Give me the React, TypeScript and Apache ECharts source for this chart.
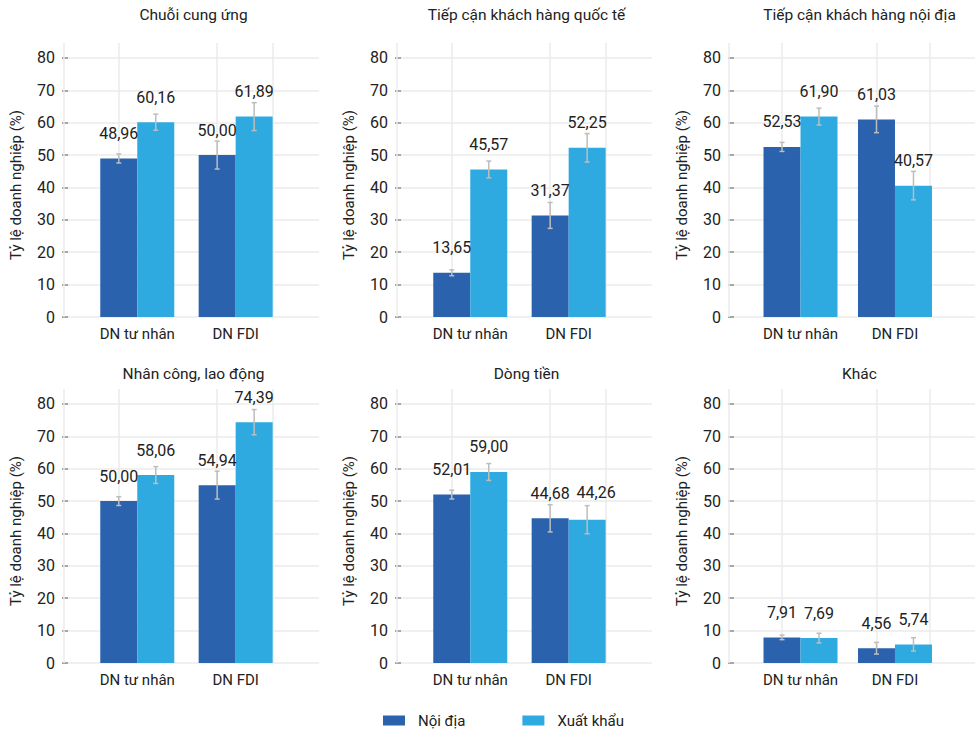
import React, { useEffect, useRef } from "react";
import * as echarts from "echarts";

const CATEGORIES = ["DN tư nhân", "DN FDI"];
const SERIES_NAMES = ["Nội địa", "Xuất khẩu"];
const TITLES = [
  "Chuỗi cung ứng",
  "Tiếp cận khách hàng quốc tế",
  "Tiếp cận khách hàng nội địa",
  "Nhân công, lao động",
  "Dòng tiền",
  "Khác",
];
const NOI_DIA = [
  [48.96, 50.0],
  [13.65, 31.37],
  [52.53, 61.03],
  [50.0, 54.94],
  [52.01, 44.68],
  [7.91, 4.56],
];
const XUAT_KHAU = [
  [60.16, 61.89],
  [45.57, 52.25],
  [61.9, 40.57],
  [58.06, 74.39],
  [59.0, 44.26],
  [7.69, 5.74],
];
// half-width of the error bars
const ERR_NOI_DIA = [
  [1.4, 4.3],
  [0.9, 4.0],
  [1.4, 4.1],
  [1.35, 4.3],
  [1.35, 4.2],
  [0.7, 1.8],
];
const ERR_XUAT_KHAU = [
  [2.5, 4.3],
  [2.6, 4.4],
  [2.6, 4.4],
  [2.6, 3.9],
  [2.6, 4.35],
  [1.5, 2.05],
];
const Y_TICKS = [0, 10, 20, 30, 40, 50, 60, 70, 80];
const Y_NAME = "Tỷ lệ doanh nghiệp (%)";

// layout / style
const COLORS = ["#2a62ad", "#2eaae1"];
const GRID_COLOR = "#ebebeb";
const ERR_COLOR = "#bdbdbd";
const TEXT_COLOR = "#222";
const FONT = "Roboto, sans-serif";
const PANEL_LEFT = [68, 401, 734];
const PANEL_TOP = [43, 389];
const TITLE_TOP = [7, 366];
const PANEL_W = 251;
const PANEL_H = 274;
const X_MIN = 0.296;
const X_MAX = 2.847;
const Y_MAX = 84.63;
const X_GRID = [0.44, 1, 2, 2.56];
const BAR_W = 37;
const CAP = 2.5;
// label nudge (px) to avoid overlapping labels: [panel, series, category, dx, dy]
const LABEL_NUDGE = [[4, 1, 1, 9, -2]];

export default function App() {
  const ref = useRef<HTMLDivElement>(null);

  useEffect(() => {
    if (!ref.current) return;
    const chart = echarts.init(ref.current, undefined, { renderer: "svg" });

    const grids: any[] = [];
    const xAxes: any[] = [];
    const yAxes: any[] = [];
    const titles: any[] = [];
    const series: any[] = [];

    const fmt = (v: number) => v.toFixed(2).replace(".", ",");

    TITLES.forEach((t, i) => {
      const col = i % 3;
      const row = Math.floor(i / 3);
      const left = PANEL_LEFT[col];
      const top = PANEL_TOP[row];
      grids.push({ left, top, width: PANEL_W, height: PANEL_H, containLabel: false });
      titles.push({
        text: t,
        left: left + PANEL_W / 2,
        top: TITLE_TOP[row],
        textAlign: "center",
        padding: 0,
        textStyle: { fontFamily: FONT, fontSize: 15.5, fontWeight: "normal", color: TEXT_COLOR },
      });
      xAxes.push({
        type: "value",
        gridIndex: i,
        min: X_MIN,
        max: X_MAX,
        axisLine: { show: false },
        axisTick: { show: false },
        splitLine: { show: false },
        axisLabel: {
          customValues: [1, 2],
          formatter: (v: number) => CATEGORIES[Math.round(v) - 1] ?? "",
          fontFamily: FONT,
          fontSize: 15,
          color: TEXT_COLOR,
          margin: 9,
        },
      });
      yAxes.push({
        type: "value",
        gridIndex: i,
        min: 0,
        max: Y_MAX,
        name: Y_NAME,
        nameLocation: "middle",
        nameGap: 45,
        nameTextStyle: { fontFamily: FONT, fontSize: 15, color: TEXT_COLOR, padding: [0, 10, 0, 0] },
        axisLine: { show: false },
        axisTick: {
          show: true,
          customValues: Y_TICKS,
          length: 6,
          lineStyle: { color: "#8a8a8a", width: 1.5 },
        },
        splitLine: { show: false },
        axisLabel: {
          customValues: Y_TICKS,
          fontFamily: FONT,
          fontSize: 16,
          color: TEXT_COLOR,
          margin: 13,
        },
      });

      const gridLines = [
        ...Y_TICKS.map((v) => ({ yAxis: v })),
        ...X_GRID.map((v) => ({ xAxis: v })),
      ];

      [NOI_DIA, XUAT_KHAU].forEach((vals, s) => {
        series.push({
          type: "bar",
          name: SERIES_NAMES[s],
          xAxisIndex: i,
          yAxisIndex: i,
          barWidth: BAR_W,
          barGap: "0%",
          itemStyle: { color: COLORS[s] },
          z: 2,
          data: vals[i].map((v, j) => {
            const nudge = LABEL_NUDGE.find((n) => n[0] === i && n[1] === s && n[2] === j);
            return nudge
              ? { value: [j + 1, v], label: { offset: [nudge[3], nudge[4]] } }
              : { value: [j + 1, v] };
          }),
          label: {
            show: true,
            position: "top",
            distance: 17,
            fontFamily: FONT,
            fontSize: 16,
            color: TEXT_COLOR,
            formatter: (p: any) => fmt(p.value[1]),
          },
          markLine:
            s === 0
              ? {
                  silent: true,
                  z: 1,
                  symbol: ["none", "none"],
                  label: { show: false },
                  lineStyle: { color: GRID_COLOR, width: 1.5, type: "solid" },
                  emphasis: { disabled: true },
                  data: gridLines,
                }
              : undefined,
        });
      });

      const errData: number[][] = [];
      [NOI_DIA, XUAT_KHAU].forEach((vals, s) => {
        const errs = s === 0 ? ERR_NOI_DIA : ERR_XUAT_KHAU;
        vals[i].forEach((v, j) => {
          errData.push([j + 1, v - errs[i][j], v + errs[i][j], s === 0 ? -1 : 1]);
        });
      });
      series.push({
        type: "custom",
        xAxisIndex: i,
        yAxisIndex: i,
        z: 3,
        silent: true,
        encode: { x: 0, y: [1, 2] },
        data: errData,
        renderItem: (params: any, api: any) => {
          const x = api.value(0);
          const lo = api.coord([x, api.value(1)]);
          const hi = api.coord([x, api.value(2)]);
          const cx = lo[0] + (api.value(3) * BAR_W) / 2;
          const style = { stroke: ERR_COLOR, lineWidth: 1.5 };
          return {
            type: "group",
            children: [
              { type: "line", shape: { x1: cx, y1: lo[1], x2: cx, y2: hi[1] }, style },
              { type: "line", shape: { x1: cx - CAP, y1: lo[1], x2: cx + CAP, y2: lo[1] }, style },
              { type: "line", shape: { x1: cx - CAP, y1: hi[1], x2: cx + CAP, y2: hi[1] }, style },
            ],
          };
        },
      });
    });

    chart.setOption({
      animation: false,
      backgroundColor: "#ffffff",
      textStyle: { fontFamily: FONT },
      title: titles,
      grid: grids,
      xAxis: xAxes,
      yAxis: yAxes,
      legend: {
        data: SERIES_NAMES,
        icon: "rect",
        itemWidth: 22,
        itemHeight: 10,
        itemGap: 57,
        left: 383,
        top: 713,
        padding: 0,
        selectedMode: false,
        textStyle: { fontFamily: FONT, fontSize: 15, color: TEXT_COLOR, padding: [0, 0, 0, 8] },
      },
      series,
    });

    return () => chart.dispose();
  }, []);

  return (
    <div
      ref={ref}
      style={{ position: "absolute", left: 0, top: 0, width: 975, height: 733 }}
    />
  );
}
